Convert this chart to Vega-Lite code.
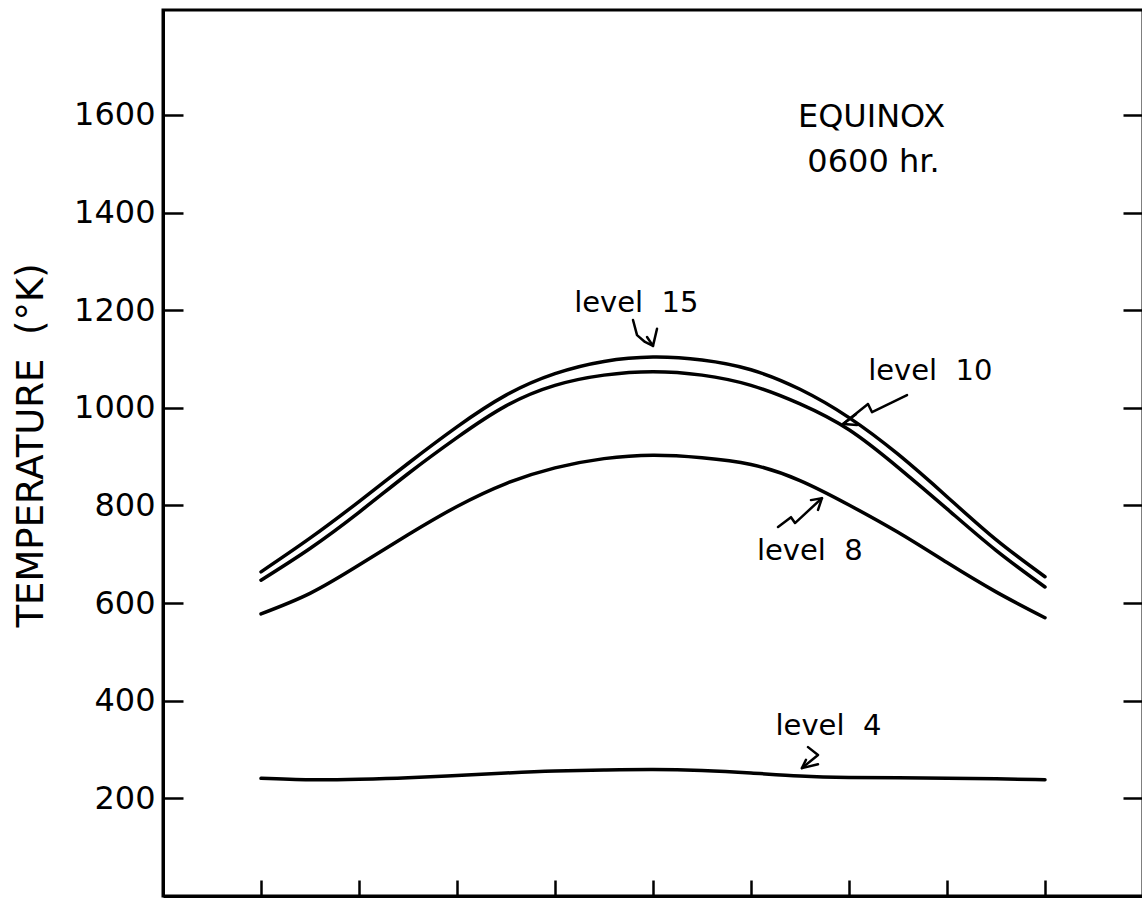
{
  "$schema": "https://vega.github.io/schema/vega-lite/v6.json",
  "autosize": {"type": "none"},
  "padding": {"left": 163, "top": 10, "right": 0, "bottom": 3},
  "width": 980,
  "height": 886,
  "background": "white",
  "config": {"view": {"stroke": "black", "strokeWidth": 3}, "font": "DejaVu Sans"},
  "datasets": {
    "curves": [
      {"x": 0, "T": 664, "level": "15"}, {"x": 0.5, "T": 733, "level": "15"}, {"x": 1, "T": 808, "level": "15"}, {"x": 1.5, "T": 886, "level": "15"}, {"x": 2, "T": 961, "level": "15"}, {"x": 2.5, "T": 1026, "level": "15"}, {"x": 3, "T": 1070, "level": "15"}, {"x": 3.5, "T": 1095, "level": "15"}, {"x": 4, "T": 1104, "level": "15"}, {"x": 4.5, "T": 1098, "level": "15"}, {"x": 5, "T": 1078, "level": "15"}, {"x": 5.5, "T": 1038, "level": "15"}, {"x": 6, "T": 980, "level": "15"}, {"x": 6.5, "T": 905, "level": "15"}, {"x": 7, "T": 818, "level": "15"}, {"x": 7.5, "T": 730, "level": "15"}, {"x": 8, "T": 654, "level": "15"},
      {"x": 0, "T": 647, "level": "10"}, {"x": 0.5, "T": 712, "level": "10"}, {"x": 1, "T": 786, "level": "10"}, {"x": 1.5, "T": 865, "level": "10"}, {"x": 2, "T": 939, "level": "10"}, {"x": 2.5, "T": 1004, "level": "10"}, {"x": 3, "T": 1046, "level": "10"}, {"x": 3.5, "T": 1067, "level": "10"}, {"x": 4, "T": 1074, "level": "10"}, {"x": 4.5, "T": 1067, "level": "10"}, {"x": 5, "T": 1046, "level": "10"}, {"x": 5.5, "T": 1008, "level": "10"}, {"x": 6, "T": 955, "level": "10"}, {"x": 6.5, "T": 878, "level": "10"}, {"x": 7, "T": 793, "level": "10"}, {"x": 7.5, "T": 708, "level": "10"}, {"x": 8, "T": 633, "level": "10"},
      {"x": 0, "T": 578, "level": "8"}, {"x": 0.5, "T": 620, "level": "8"}, {"x": 1, "T": 678, "level": "8"}, {"x": 1.5, "T": 740, "level": "8"}, {"x": 2, "T": 798, "level": "8"}, {"x": 2.5, "T": 845, "level": "8"}, {"x": 3, "T": 877, "level": "8"}, {"x": 3.5, "T": 896, "level": "8"}, {"x": 4, "T": 903, "level": "8"}, {"x": 4.5, "T": 898, "level": "8"}, {"x": 5, "T": 884, "level": "8"}, {"x": 5.5, "T": 851, "level": "8"}, {"x": 6, "T": 801, "level": "8"}, {"x": 6.5, "T": 745, "level": "8"}, {"x": 7, "T": 683, "level": "8"}, {"x": 7.5, "T": 623, "level": "8"}, {"x": 8, "T": 570, "level": "8"},
      {"x": 0, "T": 241, "level": "4"}, {"x": 0.5, "T": 238, "level": "4"}, {"x": 1, "T": 239, "level": "4"}, {"x": 1.5, "T": 242, "level": "4"}, {"x": 2, "T": 247, "level": "4"}, {"x": 2.5, "T": 252, "level": "4"}, {"x": 3, "T": 256, "level": "4"}, {"x": 3.5, "T": 258, "level": "4"}, {"x": 4, "T": 259, "level": "4"}, {"x": 4.5, "T": 257, "level": "4"}, {"x": 5, "T": 252, "level": "4"}, {"x": 5.5, "T": 246, "level": "4"}, {"x": 6, "T": 243, "level": "4"}, {"x": 6.5, "T": 242, "level": "4"}, {"x": 7, "T": 241, "level": "4"}, {"x": 7.5, "T": 240, "level": "4"}, {"x": 8, "T": 238, "level": "4"}
    ],
    "arrows": [
      {"seg": "a15", "ord": 1, "ax": 3.796, "ay": 1180}, {"seg": "a15", "ord": 2, "ax": 3.837, "ay": 1149}, {"seg": "a15", "ord": 3, "ax": 3.918, "ay": 1135}, {"seg": "a15", "ord": 4, "ax": 4.0, "ay": 1127},
      {"seg": "a15h", "ord": 1, "ax": 3.939, "ay": 1145}, {"seg": "a15h", "ord": 2, "ax": 4.0, "ay": 1127}, {"seg": "a15h", "ord": 3, "ax": 4.041, "ay": 1162},
      {"seg": "a10", "ord": 1, "ax": 6.592, "ay": 1026}, {"seg": "a10", "ord": 2, "ax": 6.235, "ay": 991}, {"seg": "a10", "ord": 3, "ax": 6.194, "ay": 1008}, {"seg": "a10", "ord": 4, "ax": 5.939, "ay": 967},
      {"seg": "a10h", "ord": 1, "ax": 6.071, "ay": 987}, {"seg": "a10h", "ord": 2, "ax": 5.939, "ay": 967}, {"seg": "a10h", "ord": 3, "ax": 6.082, "ay": 965},
      {"seg": "a8", "ord": 1, "ax": 5.276, "ay": 756}, {"seg": "a8", "ord": 2, "ax": 5.408, "ay": 776}, {"seg": "a8", "ord": 3, "ax": 5.449, "ay": 764}, {"seg": "a8", "ord": 4, "ax": 5.724, "ay": 815},
      {"seg": "a8h", "ord": 1, "ax": 5.612, "ay": 811}, {"seg": "a8h", "ord": 2, "ax": 5.724, "ay": 815}, {"seg": "a8h", "ord": 3, "ax": 5.684, "ay": 791},
      {"seg": "a4", "ord": 1, "ax": 5.582, "ay": 305}, {"seg": "a4", "ord": 2, "ax": 5.684, "ay": 289}, {"seg": "a4", "ord": 3, "ax": 5.52, "ay": 262},
      {"seg": "a4h", "ord": 1, "ax": 5.561, "ay": 279}, {"seg": "a4h", "ord": 2, "ax": 5.52, "ay": 262}, {"seg": "a4h", "ord": 3, "ax": 5.684, "ay": 270}
    ],
    "labels": [
      {"tx": 3.83, "ty": 1196, "label": "level\u00a0 15"},
      {"tx": 6.83, "ty": 1057, "label": "level\u00a0 10"},
      {"tx": 5.6, "ty": 688, "label": "level\u00a0 8"},
      {"tx": 5.79, "ty": 330, "label": "level\u00a0 4"}
    ],
    "titles": [
      {"tx": 6.23, "ty": 1575, "label": "EQUINOX"},
      {"tx": 6.25, "ty": 1483, "label": "0600 hr."}
    ]
  },
  "layer": [
    {
      "data": {"name": "curves"},
      "mark": {"type": "line", "color": "black", "strokeWidth": 3.5, "interpolate": "natural", "strokeCap": "round"},
      "encoding": {
        "x": {"field": "x", "type": "quantitative", "scale": {"domain": [-1, 9], "nice": false, "zero": false},
              "axis": {"values": [0, 1, 2, 3, 4, 5, 6, 7, 8], "labels": false, "tickSize": -16, "tickWidth": 2.5, "tickColor": "black", "domainColor": "black", "domainWidth": 3, "title": null, "grid": false}},
        "y": {"field": "T", "type": "quantitative", "scale": {"domain": [0, 1815], "nice": false, "zero": false},
              "axis": {"orient": "left", "values": [200, 400, 600, 800, 1000, 1200, 1400, 1600], "format": "d", "title": "TEMPERATURE\u00a0 (°K)", "titleFont": "DejaVu Sans", "titleFontSize": 37, "titleFontWeight": "normal", "titleColor": "black", "titleAngle": -90, "titleX": -121, "titleY": 435, "titleAlign": "center", "titleBaseline": "alphabetic", "labelFont": "DejaVu Sans", "labelFontSize": 32, "labelColor": "black", "labelPadding": 28, "labelBaseline": "middle", "tickSize": -20, "tickWidth": 2.5, "tickColor": "black", "domainColor": "black", "domainWidth": 3, "grid": false}},
        "detail": {"field": "level"}
      }
    },
    {
      "data": {"name": "arrows"},
      "mark": {"type": "line", "color": "black", "strokeWidth": 2.5, "strokeCap": "round", "strokeJoin": "round"},
      "encoding": {
        "x": {"field": "ax", "type": "quantitative", "scale": {"domain": [-1, 9], "nice": false, "zero": false},
              "axis": {"values": [0, 1, 2, 3, 4, 5, 6, 7, 8], "labels": false, "tickSize": -16, "tickWidth": 2.5, "tickColor": "black", "domainColor": "black", "domainWidth": 3, "title": null, "grid": false}},
        "y": {"field": "ay", "type": "quantitative", "scale": {"domain": [0, 1815], "nice": false, "zero": false},
              "axis": {"orient": "right", "values": [200, 400, 600, 800, 1000, 1200, 1400, 1600], "labels": false, "title": null, "tickSize": -20, "tickWidth": 2.5, "tickColor": "black", "domainColor": "black", "domainWidth": 3, "grid": false}},
        "detail": {"field": "seg"},
        "order": {"field": "ord", "type": "quantitative"}
      }
    },
    {
      "data": {"name": "labels"},
      "mark": {"type": "text", "font": "DejaVu Sans", "fontSize": 29, "color": "black", "align": "center", "baseline": "alphabetic"},
      "encoding": {
        "x": {"field": "tx", "type": "quantitative", "scale": {"domain": [-1, 9], "nice": false, "zero": false},
              "axis": {"values": [0, 1, 2, 3, 4, 5, 6, 7, 8], "labels": false, "tickSize": -16, "tickWidth": 2.5, "tickColor": "black", "domainColor": "black", "domainWidth": 3, "title": null, "grid": false}},
        "y": {"field": "ty", "type": "quantitative", "scale": {"domain": [0, 1815], "nice": false, "zero": false}, "axis": null},
        "text": {"field": "label"}
      }
    },
    {
      "data": {"name": "titles"},
      "mark": {"type": "text", "font": "DejaVu Sans", "fontSize": 32, "color": "black", "align": "center", "baseline": "alphabetic"},
      "encoding": {
        "x": {"field": "tx", "type": "quantitative", "scale": {"domain": [-1, 9], "nice": false, "zero": false},
              "axis": {"values": [0, 1, 2, 3, 4, 5, 6, 7, 8], "labels": false, "tickSize": -16, "tickWidth": 2.5, "tickColor": "black", "domainColor": "black", "domainWidth": 3, "title": null, "grid": false}},
        "y": {"field": "ty", "type": "quantitative", "scale": {"domain": [0, 1815], "nice": false, "zero": false}, "axis": null},
        "text": {"field": "label"}
      }
    }
  ],
  "resolve": {"scale": {"y": "independent"}}
}
